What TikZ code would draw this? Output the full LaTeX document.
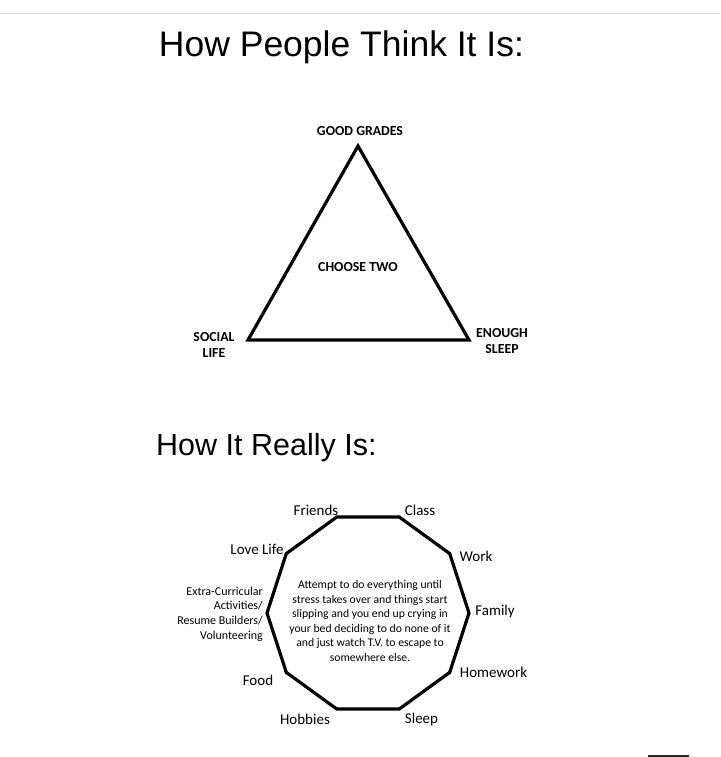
\documentclass[tikz,border=0pt]{standalone}
\usepackage{fontspec}
\setmainfont{Carlito}
\newfontfamily\arialf{Liberation Sans}
\begin{document}
\begin{tikzpicture}[x=1pt,y=-1pt,
  title/.style={font=\arialf\fontsize{35.5}{40}\selectfont, inner sep=0pt},
  title2/.style={font=\arialf\fontsize{30.5}{36}\selectfont, inner sep=0pt},
  tlabel/.style={font=\bfseries\fontsize{13.8}{16}\selectfont, inner sep=0pt, align=center},
  plabel/.style={font=\fontsize{15}{18}\selectfont, inner sep=0pt},
  shapeline/.style={line width=3.2pt, line join=miter},
]
\useasboundingbox (0,0) rectangle (720,757);
\fill[white] (0,0) rectangle (720,757);
\draw[black!14, line width=1pt] (0,14) -- (720,14);
\fill[black!85] (648,755) rectangle (689,757);

% titles
\node[title, anchor=base] (t1) at (341.5,57) {How People Think It Is:};
\node[title2, anchor=base west] (t2) at (156,455) {How It Really Is:};

% triangle
\coordinate (A) at (358,146);
\coordinate (B) at (248,340);
\coordinate (C) at (469,340);
\draw[shapeline] (A) -- (B) -- (C) -- cycle;
\node[tlabel] (gg) at (360,131) {GOOD GRADES};
\node[tlabel] (ct) at (358,267) {CHOOSE TWO};
\node[tlabel] (sl) at (214,345) {SOCIAL\\LIFE};
\node[tlabel] (es) at (502,341) {ENOUGH\\SLEEP};

% decagon
\foreach \i in {0,...,9}{
  \coordinate (v\i) at ({368+101*cos(108-36*\i)},{613-101*sin(108-36*\i)});
}
\draw[shapeline] (v0) -- (v1) -- (v2) -- (v3) -- (v4) -- (v5) -- (v6) -- (v7) -- (v8) -- (v9) -- cycle;

\node[plabel] (friends) at (316,510) {Friends};
\node[plabel] (class) at (420,510) {Class};
\node[plabel] (love) at (257,549) {Love Life};
\node[plabel] (work) at (476,556) {Work};
\node[plabel] (family) at (495,611) {Family};
\node[plabel] (homework) at (493.5,672) {Homework};
\node[plabel] (food) at (258,680) {Food};
\node[plabel] (hobbies) at (305,719) {Hobbies};
\node[plabel] (sleep) at (421.5,719) {Sleep};
\node[font=\fontsize{12}{14.7}\selectfont, inner sep=0pt, align=right, anchor=east] (extra) at (263,614)
  {Extra-Curricular\\Activities/\\Resume Builders/\\Volunteering};
\node[font=\fontsize{11.7}{14.5}\selectfont, inner sep=0pt, align=center] (center) at (370,621)
  {Attempt to do everything until\\stress takes over and things start\\slipping and you end up crying in\\your bed deciding to do none of it\\and just watch T.V. to escape to\\somewhere else.};
\end{tikzpicture}
\end{document}
